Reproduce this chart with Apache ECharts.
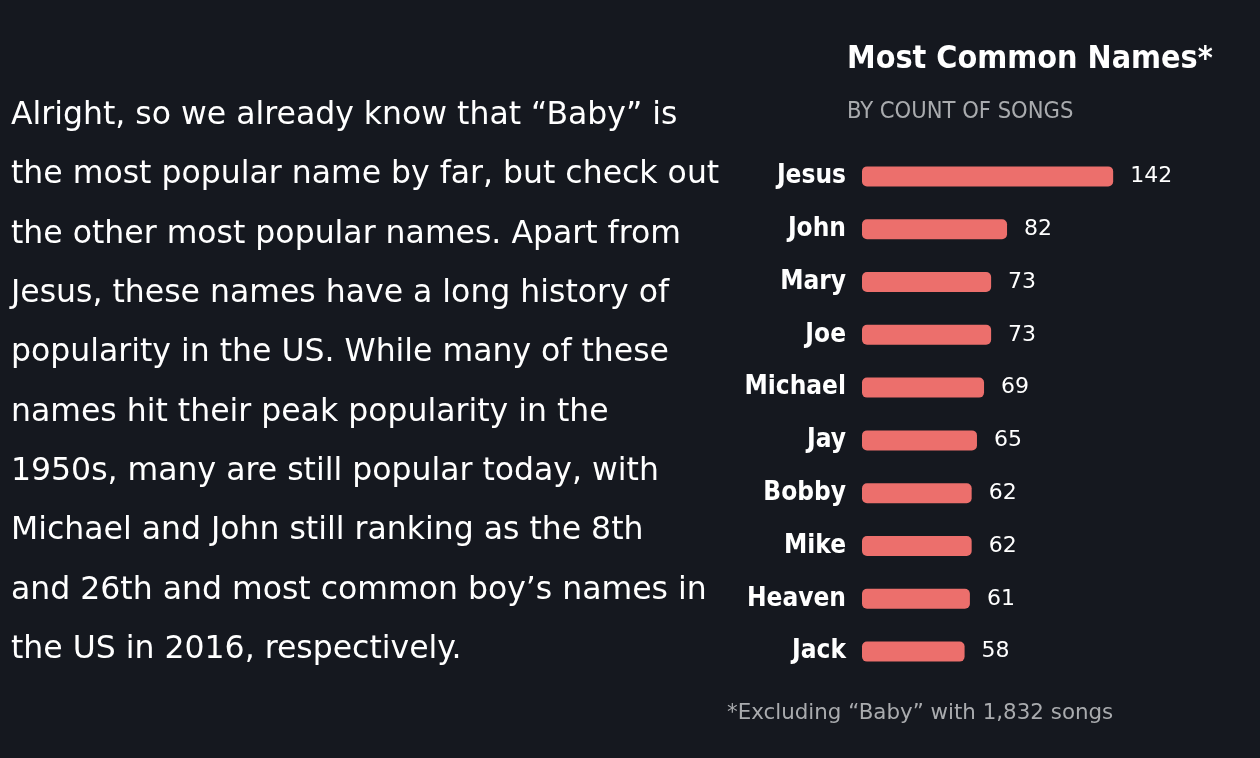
<!DOCTYPE html>
<html>
<head>
<meta charset="utf-8">
<title>Most Common Names</title>
<script src="https://cdn.jsdelivr.net/npm/echarts@6/dist/echarts.min.js"></script>
<style>
	html, body { margin: 0; padding: 0; background: #15181f; }
	#chart { width: 1260px; height: 758px; }
</style>
</head>
<body>
<div id="chart"></div>
<script>
// 数据
const names = ['Jesus', 'John', 'Mary', 'Joe', 'Michael', 'Jay', 'Bobby', 'Mike', 'Heaven', 'Jack'];
const songCounts = [142, 82, 73, 73, 69, 65, 62, 62, 61, 58];

const titleText = 'Most Common Names*';
const subtitleText = 'BY COUNT OF SONGS';
const footnoteText = '*Excluding \u201cBaby\u201d with 1,832 songs';
const paragraphLines = [
	'Alright, so we already know that \u201cBaby\u201d is',
	'the most popular name by far, but check out',
	'the other most popular names. Apart from',
	'Jesus, these names have a long history of',
	'popularity in the US. While many of these',
	'names hit their peak popularity in the',
	'1950s, many are still popular today, with',
	'Michael and John still ranking as the 8th',
	'and 26th and most common boy\u2019s names in',
	'the US in 2016, respectively.'
];

(function() {
	let myChart = echarts.init(document.getElementById('chart'));

	const condensed = '"DejaVu Sans Condensed", "Liberation Sans Narrow", sans-serif';
	const body = '"DejaVu Sans", "Noto Sans", sans-serif';

	// 左侧段落文字
	let paraGraphics = paragraphLines.map(function(line, i) {
		return {
			type: 'text',
			left: 11,
			top: 100 + i * 59.3,
			style: {
				text: line,
				fill: '#ffffff',
				font: '400 31.5px ' + body
			}
		};
	});

	let option = {
		backgroundColor: '#15181f',
		animation: false,
		grid: {
			left: 862,
			right: 115,
			top: 150,
			bottom: 80
		},
		xAxis: {
			type: 'value',
			min: 0,
			max: 160,
			show: false
		},
		yAxis: {
			type: 'category',
			inverse: true,
			data: names,
			axisLine: { show: false },
			axisTick: { show: false },
			axisLabel: {
				color: '#ffffff',
				fontFamily: condensed,
				fontWeight: 'bold',
				fontSize: 26,
				margin: 16
			}
		},
		graphic: [
			{
				type: 'text',
				left: 847,
				top: 44,
				style: {
					text: titleText,
					fill: '#ffffff',
					font: 'bold 32px ' + condensed
				}
			},
			{
				type: 'text',
				left: 847,
				top: 100,
				style: {
					text: subtitleText,
					fill: '#a9abae',
					font: '400 23.5px ' + condensed
				}
			},
			{
				type: 'text',
				left: 727,
				top: 703,
				style: {
					text: footnoteText,
					fill: '#a9abae',
					font: '400 21.4px ' + body
				}
			}
		].concat(paraGraphics),
		series: [
			{
				name: 'Songs',
				type: 'bar',
				barWidth: 20,
				data: songCounts,
				itemStyle: {
					color: '#ec6f6c',
					borderRadius: 5
				},
				label: {
					show: true,
					position: 'right',
					distance: 17,
					color: '#ffffff',
					fontFamily: body,
					fontSize: 22
				}
			}
		]
	};

	myChart.setOption(option);

	window.addEventListener('resize', function() {
		myChart.resize();
	});
})();
</script>
</body>
</html>
